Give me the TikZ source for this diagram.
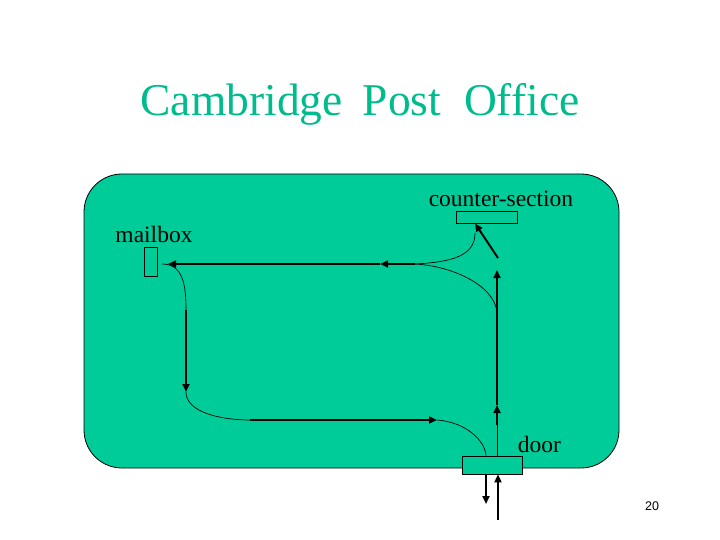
\documentclass[tikz,border=0pt]{standalone}
\usepackage{fontspec}
\setmainfont{Liberation Serif}
\newfontfamily\numfont{Liberation Sans}
\usetikzlibrary{arrows.meta}
\definecolor{postgreen}{RGB}{0,204,153}

\begin{document}
\begin{tikzpicture}[x=1pt,y=-1pt,
  box/.style={draw, fill=postgreen, inner sep=0pt, line width=0.8pt},
  lbl/.style={anchor=base, inner sep=0pt, font=\fontsize{23.5}{24}\selectfont},
  flow/.style={line width=1.9pt, -{Triangle[length=8pt,width=7pt]}},
  swerve/.style={line width=0.7pt}]
\useasboundingbox (0,0) rectangle (720,540);

% title and floor
\node[anchor=base, inner sep=0pt, text=postgreen!92!black, font=\fontsize{45.5}{46}\selectfont] (title) at (360,116)
  {Cambridge\hspace{20pt}Post\hspace{23pt}Office};
\draw[fill=postgreen, line width=0.8pt, rounded corners=38pt] (84,174) rectangle (619,468);

% counter, mailbox, door
\node[box, minimum width=61pt, minimum height=12pt] (counter) at (486.5,217) {};
\node[box, minimum width=13pt, minimum height=29pt] (mailbox) at (150.5,261.5) {};
\node[box, minimum width=60pt, minimum height=18pt] (door) at (492,465) {};
\node[lbl] (counterlbl) at (501,207) {counter-section};
\node[lbl] (mailboxlbl) at (154,243) {mailbox};
\node[lbl] (doorlbl) at (539.5,452) {door};
\node[anchor=base, inner sep=0pt, font=\numfont\fontsize{12.5}{13}\selectfont] (pageno) at (652,510) {20};

% route points
\coordinate (cusp) at (415,264);
\coordinate (westmid) at (380,264);
\coordinate (mailin) at (168,264);
\coordinate (mailout) at (162,264);
\coordinate (downtop) at (186,310);
\coordinate (downend) at (186,392);
\coordinate (eaststart) at (250,420);
\coordinate (eastend) at (437,420);
\coordinate (upthin) at (497,425);
\coordinate (upmid) at (497,405);
\coordinate (upend) at (497,270);
\coordinate (joint) at (497,312);
\coordinate (ctrtop) at (475,233);
\coordinate (ctrfrom) at (498,258);
\coordinate (outside) at (498,520);
\coordinate (street) at (486,504);

% route through the office
\draw[swerve] (door.north -| upthin) -- (upthin);
\draw[flow] (upthin) -- (upmid);
\draw[flow] (upmid) -- (upend);
\draw[flow] (ctrfrom) -- (counter.south -| ctrtop);
\draw[swerve] (joint) .. controls (494,285) and (452,266) .. (cusp);
\draw[swerve] (cusp) .. controls (452,262) and (475,256) .. (ctrtop);
\draw[flow] (cusp) -- (westmid);
\draw[flow] (westmid) -- (mailin);
\draw[swerve] (mailout) .. controls (183,264) and (186,285) .. (downtop);
\draw[flow] (downtop) -- (downend);
\draw[swerve] (downend) .. controls (186,412) and (220,420) .. (eaststart);
\draw[flow] (eaststart) -- (eastend);
\draw[swerve] (eastend) .. controls (465,422) and (485,440) .. (door.north -| street);

% in and out at the door
\draw[flow] (outside) -- (door.south -| outside);
\draw[flow] (door.south -| street) -- (street);
\end{tikzpicture}
\end{document}
